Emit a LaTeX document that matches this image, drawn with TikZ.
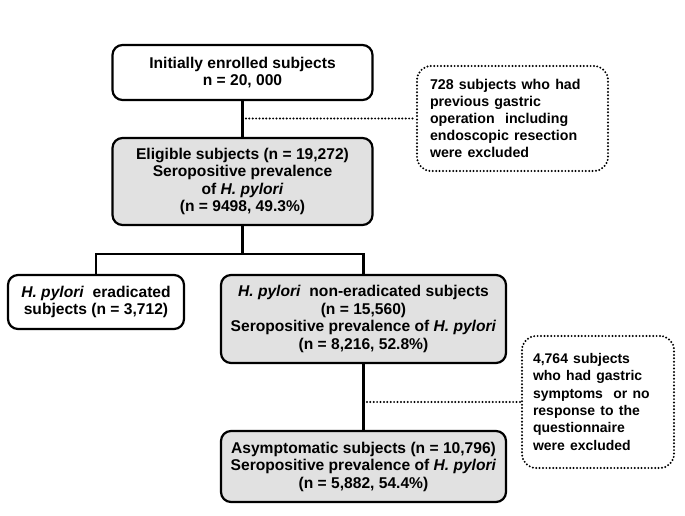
\documentclass[tikz,border=0pt]{standalone}
\usepackage{fontspec}
\setmainfont{Liberation Sans}
\definecolor{boxgray}{RGB}{225,225,225}
\begin{document}
\begin{tikzpicture}[x=1bp,y=-1bp,
  every node/.style={font=\fontsize{15.6bp}{17.5bp}\selectfont\bfseries, inner sep=0pt},
  solidbox/.style={draw, line width=2.2bp, rounded corners=10bp, align=center},
  graybox/.style={solidbox, fill=boxgray},
  dotbox/.style={draw, line width=2.2bp, rounded corners=14bp, dash pattern=on 0pt off 3.4bp, line cap=round, align=left},
  link/.style={line width=2.2bp},
  dotlink/.style={line width=2.2bp, dash pattern=on 0pt off 3.4bp, line cap=round}]
\useasboundingbox (0,0) rectangle (685,516);
\node[solidbox, minimum width=260bp, minimum height=55bp] (b1) at (242.5,72.5)
  {\fontsize{15.6bp}{18.5bp}\selectfont Initially enrolled subjects\\n = 20, 000};
\node[graybox, minimum width=260bp, minimum height=87bp] (b2) at (242.5,181.5)
  {Eligible subjects (n = 19,272)\\Seropositive prevalence\\of \textit{H. pylori}\\(n = 9498, 49.3\%)};
\node[dotbox, minimum width=191bp, minimum height=105bp, text width=165bp] (d1) at (512.5,118.5)
  {\fontsize{14.2bp}{16.8bp}\selectfont 728 subjects who had\\previous gastric\\operation~ including\\endoscopic resection\\were excluded};
\node[solidbox, minimum width=176bp, minimum height=54bp] (l) at (96,302)
  {\fontsize{15.6bp}{18bp}\selectfont\textit{H. pylori}~ eradicated\\subjects (n = 3,712)};
\node[graybox, minimum width=285bp, minimum height=88bp] (r) at (363.5,319)
  {\fontsize{15.6bp}{18bp}\selectfont\textit{H. pylori}~ non-eradicated subjects\\(n = 15,560)\\Seropositive prevalence of \textit{H. pylori}\\(n = 8,216, 52.8\%)};
\node[graybox, minimum width=285bp, minimum height=71bp] (b4) at (363.5,466.5)
  {Asymptomatic subjects (n = 10,796)\\Seropositive prevalence of \textit{H. pylori}\\(n = 5,882, 54.4\%)};
\node[dotbox, minimum width=152bp, minimum height=132bp, text width=130bp] (d2) at (598,402)
  {\fontsize{14bp}{17.3bp}\selectfont 4,764 subjects\\who had gastric\\symptoms~ or no\\response to the\\questionnaire\\were excluded};
% connectors
\draw[link] (b1) -- (b2);
\coordinate (j1) at (b1.south |- d1.west);
\draw[dotlink] (j1) -- (d1.west);
\coordinate (br) at ([yshift=-28bp]b2.south);
\draw[link] (b2.south) -- (br);
\draw[link] (l.north) |- (br) -| (r.north);
\draw[link] (r.south) -- (b4.north);
\coordinate (j2) at (b4.north |- d2.west);
\draw[dotlink] (j2) -- (d2.west);
\end{tikzpicture}
\end{document}
